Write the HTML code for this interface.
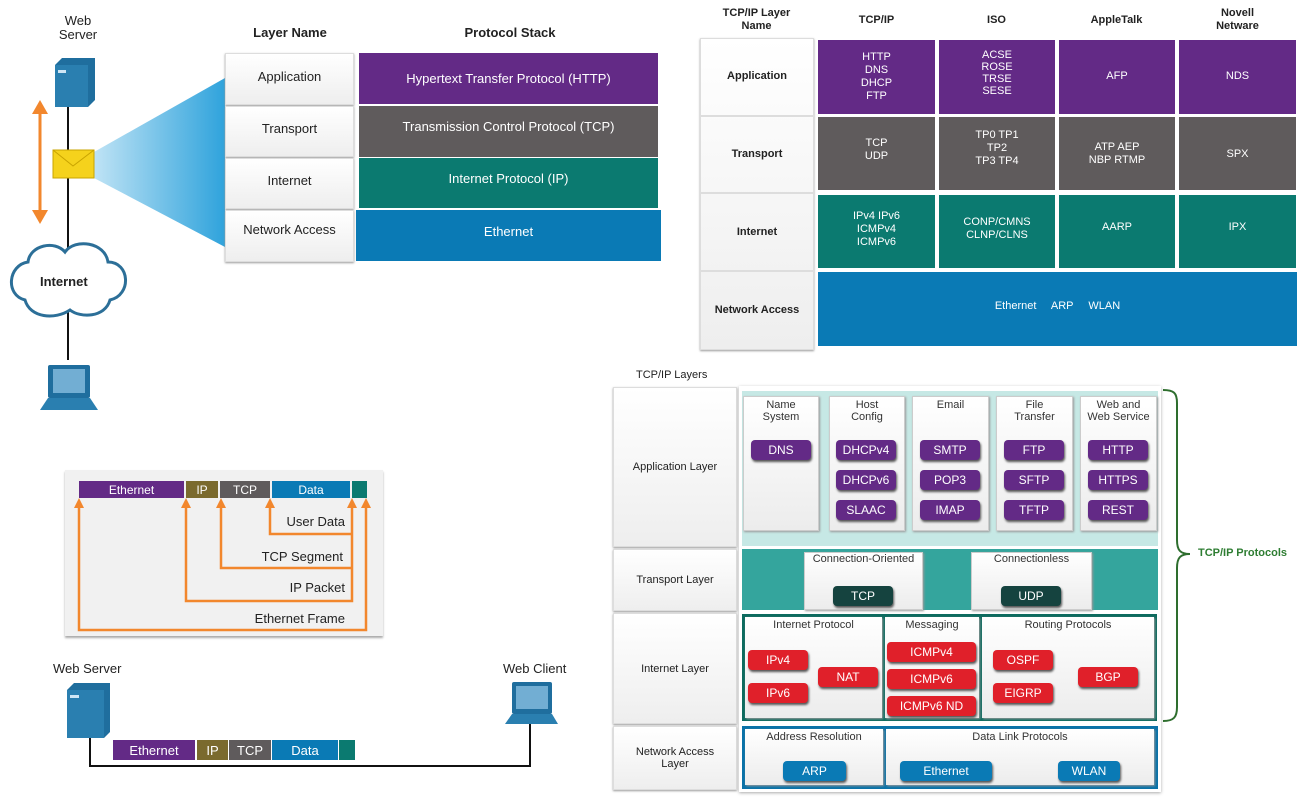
<!DOCTYPE html>
<html><head><meta charset="utf-8"><style>
*{margin:0;padding:0;box-sizing:border-box}
body{width:1316px;height:800px;background:#fff;position:relative;overflow:hidden;font-family:"Liberation Sans",sans-serif;color:#222}
.a{position:absolute}
.c{position:absolute;display:flex;align-items:center;justify-content:center;text-align:center}
.w{color:#fff}
.lb{background:linear-gradient(#fff,#eee);border:1px solid #ddd;box-shadow:0 1px 2px #999}
.pu{background:#632a86}.gr{background:#5f5b5c}.te{background:#0b7a70}.bl{background:#0a7ab5}
.pill{position:absolute;display:flex;align-items:center;justify-content:center;color:#fff;font-size:12px;border-radius:4px;box-shadow:1px 2px 2px #555}
.pp{background:#632a86}.rd{background:#e0202a}.dk{background:#15433f}.bp{background:#0a7ab5}
.sub{position:absolute;background:linear-gradient(#fff,#ececec);border:1px solid #ccc;box-shadow:1px 1px 2px #999;font-size:11px;text-align:center;color:#333;line-height:12px;padding-top:2px}
.h{font-weight:bold;font-size:11px;text-align:center}
</style></head><body>

<!-- Top-left network -->
<div class="a" style="left:55px;top:14px;width:46px;text-align:center;font-size:13px;line-height:14px">Web<br>Server</div>
<svg class="a" style="left:0;top:0" width="230" height="420">
<defs><linearGradient id="g" x1="0" x2="1"><stop offset="0" stop-color="#bfe3f5"/><stop offset="1" stop-color="#2fa3dc"/></linearGradient></defs>
<polygon points="94,152 94,178 225,247 225,78" fill="url(#g)"/>
<line x1="68" y1="100" x2="68" y2="360" stroke="#111" stroke-width="2"/>
<polygon points="55,65 62,58 95,58 95,100 88,107 55,107" fill="#1f6e9e"/>
<rect x="55" y="65" width="33" height="42" fill="#2a7fb0"/>
<rect x="58" y="70" width="8" height="3" fill="#cfe6f5"/>
<line x1="40" y1="104" x2="40" y2="220" stroke="#f2872d" stroke-width="3"/>
<polygon points="32,114 40,100 48,114" fill="#f2872d"/><polygon points="32,210 40,224 48,210" fill="#f2872d"/>
<rect x="53" y="150" width="41" height="28" fill="#f5d21c" stroke="#c9a400"/>
<polyline points="53,150 73,166 94,150" fill="none" stroke="#c9a400"/>
<path d="M25,300 C5,295 8,265 28,262 C30,245 55,240 65,252 C75,238 105,242 108,262 C130,262 132,295 110,300 C105,318 80,318 70,310 C55,320 30,318 25,300 Z" fill="#fff" stroke="#2c6f98" stroke-width="3"/>
<rect x="48" y="365" width="42" height="33" rx="2" fill="#1f6e9e"/><rect x="53" y="369" width="32" height="24" fill="#72aed3"/>
<polygon points="48,398 90,398 98,410 40,410" fill="#2a7fb0"/>
</svg>
<div class="a" style="left:40px;top:274px;font-weight:bold;font-size:13px">Internet</div>

<div class="a" style="left:225px;top:25px;width:130px;text-align:center;font-weight:bold;font-size:13px">Layer Name</div>
<div class="a" style="left:360px;top:25px;width:300px;text-align:center;font-weight:bold;font-size:13px">Protocol Stack</div>
<div class="c lb" style="left:225px;top:53px;width:129px;height:52px;font-size:13px;padding-bottom:6px">Application</div>
<div class="c lb" style="left:225px;top:106px;width:129px;height:51px;font-size:13px;padding-bottom:6px">Transport</div>
<div class="c lb" style="left:225px;top:158px;width:129px;height:51px;font-size:13px;padding-bottom:6px">Internet</div>
<div class="c lb" style="left:225px;top:210px;width:129px;height:52px;font-size:13px;padding-bottom:14px">Network Access</div>
<div class="c pu w" style="left:359px;top:53px;width:299px;height:51px;font-size:13px">Hypertext Transfer Protocol (HTTP)</div>
<div class="c gr w" style="left:359px;top:106px;width:299px;height:51px;font-size:13px;padding-bottom:10px">Transmission Control Protocol (TCP)</div>
<div class="c te w" style="left:359px;top:158px;width:299px;height:50px;font-size:13px;padding-bottom:10px">Internet Protocol (IP)</div>
<div class="c bl w" style="left:356px;top:210px;width:305px;height:51px;font-size:13px;padding-bottom:8px">Ethernet</div>

<!-- Top-right table -->
<div class="a h" style="left:700px;top:7px;width:113px;line-height:13px">TCP/IP Layer<br>Name</div>
<div class="a h" style="left:818px;top:14px;width:117px">TCP/IP</div>
<div class="a h" style="left:938px;top:14px;width:117px">ISO</div>
<div class="a h" style="left:1058px;top:14px;width:117px">AppleTalk</div>
<div class="a h" style="left:1178px;top:7px;width:119px;line-height:13px">Novell<br>Netware</div>
<div class="a" style="left:700px;top:38px;width:114px;height:312px;background:linear-gradient(#fff,#eee);border:1px solid #ddd;box-shadow:0 1px 2px #999"></div>
<div class="c h" style="left:700px;top:38px;width:114px;height:76px">Application</div>
<div class="c h" style="left:700px;top:117px;width:114px;height:74px">Transport</div>
<div class="c h" style="left:700px;top:194px;width:114px;height:75px">Internet</div>
<div class="c h" style="left:700px;top:272px;width:114px;height:76px">Network Access</div>
<div style="position:absolute;left:700px;top:115px;width:114px;height:2px;background:#ddd"></div>
<div style="position:absolute;left:700px;top:192px;width:114px;height:2px;background:#ddd"></div>
<div style="position:absolute;left:700px;top:270px;width:114px;height:2px;background:#ddd"></div>

<div class="c pu w" style="left:818px;top:40px;width:117px;height:74px;font-size:11px;line-height:13px">HTTP<br>DNS<br>DHCP<br>FTP</div>
<div class="c pu w" style="left:939px;top:40px;width:116px;height:74px;font-size:11px;line-height:12px;padding-bottom:8px">ACSE<br>ROSE<br>TRSE<br>SESE</div>
<div class="c pu w" style="left:1059px;top:40px;width:116px;height:74px;font-size:11px;padding-bottom:2px">AFP</div>
<div class="c pu w" style="left:1179px;top:40px;width:117px;height:74px;font-size:11px;padding-bottom:2px">NDS</div>
<div class="c gr w" style="left:818px;top:117px;width:117px;height:73px;font-size:11px;line-height:13px;padding-bottom:8px">TCP<br>UDP</div>
<div class="c gr w" style="left:939px;top:117px;width:116px;height:73px;font-size:11px;line-height:13px;padding-bottom:10px">TP0 TP1<br>TP2<br>TP3 TP4</div>
<div class="c gr w" style="left:1059px;top:117px;width:116px;height:73px;font-size:11px;line-height:13px">ATP AEP<br>NBP RTMP</div>
<div class="c gr w" style="left:1179px;top:117px;width:117px;height:73px;font-size:11px">SPX</div>
<div class="c te w" style="left:818px;top:195px;width:117px;height:73px;font-size:11px;line-height:13px;padding-bottom:4px">IPv4 IPv6<br>ICMPv4<br>ICMPv6</div>
<div class="c te w" style="left:939px;top:195px;width:116px;height:73px;font-size:11px;line-height:13px;padding-bottom:6px">CONP/CMNS<br>CLNP/CLNS</div>
<div class="c te w" style="left:1059px;top:195px;width:116px;height:73px;font-size:11px;padding-bottom:10px">AARP</div>
<div class="c te w" style="left:1179px;top:195px;width:117px;height:73px;font-size:11px;padding-bottom:10px">IPX</div>
<div class="c bl w" style="left:818px;top:272px;width:479px;height:74px;font-size:11px;word-spacing:12px;padding-bottom:6px">Ethernet ARP WLAN</div>

<!-- Bottom-left encapsulation -->
<div class="a" style="left:65px;top:470px;width:318px;height:166px;background:#f1f1f1;box-shadow:0 2px 2px #aaa"></div>
<div class="c pu w" style="left:79px;top:481px;width:105px;height:17px;font-size:12px">Ethernet</div>
<div class="c w" style="left:186px;top:481px;width:32px;height:17px;font-size:12px;background:#7a6a2e">IP</div>
<div class="c gr w" style="left:220px;top:481px;width:50px;height:17px;font-size:12px">TCP</div>
<div class="c bl w" style="left:272px;top:481px;width:78px;height:17px;font-size:12px">Data</div>
<div class="a te" style="left:352px;top:481px;width:15px;height:17px"></div>
<svg class="a" style="left:0;top:460px" width="400" height="190">
<g fill="none" stroke="#f2872d" stroke-width="2.5">
<polyline points="79,42 79,170 366,170 366,42"/>
<polyline points="186,42 186,141 352,141 352,42"/>
<polyline points="221,42 221,108 352,108"/>
<polyline points="270,42 270,74 352,74"/>
</g>
<g fill="#f2872d">
<polygon points="74,48 79,38 84,48"/><polygon points="181,48 186,38 191,48"/><polygon points="216,48 221,38 226,48"/>
<polygon points="265,48 270,38 275,48"/><polygon points="347,48 352,38 357,48"/><polygon points="361,48 366,38 371,48"/>
</g>
</svg>
<div class="a" style="left:250px;top:514px;width:95px;text-align:right;font-size:13px">User Data</div>
<div class="a" style="left:200px;top:549px;width:143px;text-align:right;font-size:13px">TCP Segment</div>
<div class="a" style="left:200px;top:580px;width:145px;text-align:right;font-size:13px">IP Packet</div>
<div class="a" style="left:200px;top:611px;width:145px;text-align:right;font-size:13px">Ethernet Frame</div>

<div class="a" style="left:53px;top:661px;font-size:13px">Web Server</div>
<div class="a" style="left:503px;top:661px;font-size:13px">Web Client</div>
<svg class="a" style="left:0;top:670px" width="580" height="110">
<polyline points="90,60 90,96 530,96 530,50" fill="none" stroke="#111" stroke-width="2"/>
<polygon points="67,20 74,13 110,13 110,62 104,68 67,68" fill="#1f6e9e"/>
<rect x="67" y="20" width="37" height="48" fill="#2a7fb0"/><rect x="70" y="25" width="9" height="3" fill="#cfe6f5"/>
<rect x="512" y="12" width="40" height="32" rx="2" fill="#1f6e9e"/><rect x="516" y="16" width="32" height="23" fill="#72aed3"/>
<polygon points="512,44 552,44 558,54 505,54" fill="#2a7fb0"/>
</svg>
<div class="c pu w" style="left:113px;top:740px;width:82px;height:20px;font-size:13px">Ethernet</div>
<div class="c w" style="left:197px;top:740px;width:31px;height:20px;font-size:13px;background:#7a6a2e">IP</div>
<div class="c gr w" style="left:229px;top:740px;width:42px;height:20px;font-size:13px">TCP</div>
<div class="c bl w" style="left:272px;top:740px;width:66px;height:20px;font-size:13px">Data</div>
<div class="a te" style="left:339px;top:740px;width:16px;height:20px"></div>

<!-- Bottom-right TCP/IP layers -->
<div class="a" style="left:636px;top:369px;font-size:11px">TCP/IP Layers</div>
<div class="c lb" style="left:613px;top:387px;width:124px;height:160px;font-size:11px">Application Layer</div>
<div class="c lb" style="left:613px;top:549px;width:124px;height:62px;font-size:11px">Transport Layer</div>
<div class="c lb" style="left:613px;top:613px;width:124px;height:111px;font-size:11px">Internet Layer</div>
<div class="c lb" style="left:613px;top:726px;width:124px;height:64px;font-size:11px;line-height:12px">Network Access<br>Layer</div>
<div class="a" style="left:739px;top:386px;width:422px;height:406px;background:#fff;box-shadow:0 1px 3px #aaa"></div>
<div class="a" style="left:742px;top:391px;width:416px;height:155px;background:#c6e8e5"></div>
<div class="sub" style="left:743px;top:396px;width:76px;height:135px">Name<br>System</div>
<div class="sub" style="left:829px;top:396px;width:76px;height:135px">Host<br>Config</div>
<div class="sub" style="left:912px;top:396px;width:77px;height:135px">Email</div>
<div class="sub" style="left:996px;top:396px;width:77px;height:135px">File<br>Transfer</div>
<div class="sub" style="left:1080px;top:396px;width:77px;height:135px">Web and<br>Web Service</div>
<div class="pill pp" style="left:751px;top:440px;width:60px;height:20px">DNS</div>
<div class="pill pp" style="left:836px;top:440px;width:60px;height:20px">DHCPv4</div>
<div class="pill pp" style="left:836px;top:470px;width:60px;height:20px">DHCPv6</div>
<div class="pill pp" style="left:836px;top:500px;width:60px;height:20px">SLAAC</div>
<div class="pill pp" style="left:920px;top:440px;width:60px;height:20px">SMTP</div>
<div class="pill pp" style="left:920px;top:470px;width:60px;height:20px">POP3</div>
<div class="pill pp" style="left:920px;top:500px;width:60px;height:20px">IMAP</div>
<div class="pill pp" style="left:1004px;top:440px;width:60px;height:20px">FTP</div>
<div class="pill pp" style="left:1004px;top:470px;width:60px;height:20px">SFTP</div>
<div class="pill pp" style="left:1004px;top:500px;width:60px;height:20px">TFTP</div>
<div class="pill pp" style="left:1088px;top:440px;width:60px;height:20px">HTTP</div>
<div class="pill pp" style="left:1088px;top:470px;width:60px;height:20px">HTTPS</div>
<div class="pill pp" style="left:1088px;top:500px;width:60px;height:20px">REST</div>

<div class="a" style="left:742px;top:549px;width:416px;height:61px;background:#34a59d"></div>
<div class="sub" style="left:804px;top:552px;width:119px;height:58px;padding-top:0">Connection-Oriented</div>
<div class="sub" style="left:971px;top:552px;width:121px;height:58px;padding-top:0">Connectionless</div>
<div class="pill dk" style="left:833px;top:586px;width:60px;height:20px">TCP</div>
<div class="pill dk" style="left:1001px;top:586px;width:60px;height:20px">UDP</div>

<div class="a" style="left:742px;top:614px;width:415px;height:107px;background:#0d6b5f"></div>
<div class="sub" style="left:745px;top:617px;width:137px;height:101px;border:none">Internet Protocol</div>
<div class="sub" style="left:885px;top:617px;width:94px;height:101px;border:none">Messaging</div>
<div class="sub" style="left:982px;top:617px;width:172px;height:101px;border:none">Routing Protocols</div>
<div class="pill rd" style="left:748px;top:650px;width:60px;height:20px">IPv4</div>
<div class="pill rd" style="left:748px;top:683px;width:60px;height:20px">IPv6</div>
<div class="pill rd" style="left:818px;top:667px;width:60px;height:20px">NAT</div>
<div class="pill rd" style="left:887px;top:642px;width:89px;height:20px">ICMPv4</div>
<div class="pill rd" style="left:887px;top:669px;width:89px;height:20px">ICMPv6</div>
<div class="pill rd" style="left:887px;top:696px;width:89px;height:20px">ICMPv6 ND</div>
<div class="pill rd" style="left:993px;top:650px;width:60px;height:20px">OSPF</div>
<div class="pill rd" style="left:993px;top:683px;width:60px;height:20px">EIGRP</div>
<div class="pill rd" style="left:1078px;top:667px;width:60px;height:20px">BGP</div>

<div class="a" style="left:742px;top:726px;width:416px;height:63px;background:#0a72a8"></div>
<div class="sub" style="left:745px;top:729px;width:138px;height:56px;border:none">Address Resolution</div>
<div class="sub" style="left:886px;top:729px;width:268px;height:56px;border:none">Data Link Protocols</div>
<div class="pill bp" style="left:783px;top:761px;width:63px;height:20px">ARP</div>
<div class="pill bp" style="left:900px;top:761px;width:92px;height:20px">Ethernet</div>
<div class="pill bp" style="left:1058px;top:761px;width:62px;height:20px">WLAN</div>

<svg class="a" style="left:1160px;top:385px" width="40" height="345">
<path d="M3,5 C14,5 17,8 17,18 L17,155 C17,165 20,169 30,169 C20,169 17,173 17,183 L17,322 C17,332 14,336 3,336" fill="none" stroke="#2e6e2e" stroke-width="2"/>
</svg>
<div class="a" style="left:1198px;top:547px;font-size:11px;font-weight:bold;color:#2e7d32">TCP/IP Protocols</div>
</body></html>
